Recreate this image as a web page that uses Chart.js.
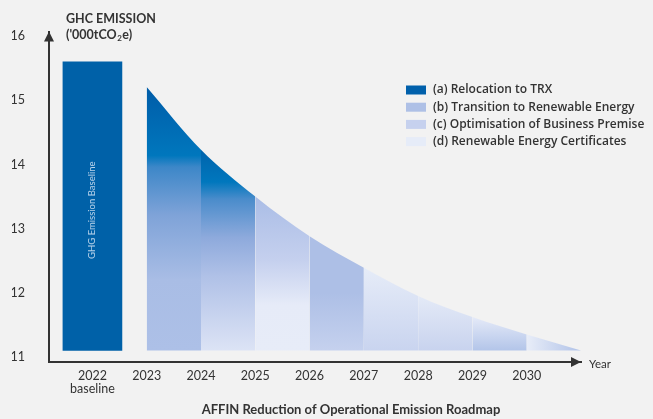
<!DOCTYPE html>
<html>
<head>
<meta charset="utf-8">
<title>Operational Emission Roadmap</title>
<script src="https://cdn.jsdelivr.net/npm/chart.js@4.4.1/dist/chart.umd.min.js"></script>
<style>
  html, body { margin: 0; padding: 0; background: #f2f2f2; }
  #wrap { width: 653px; height: 419px; position: relative; }
</style>
</head>
<body>
<div id="wrap"><canvas id="roadmap"></canvas></div>
<script>
// x axis: years and the text printed under them
const tickYears = [2022, 2023, 2024, 2025, 2026, 2027, 2028, 2029, 2030];
const tickLabels = [['2022', 'baseline'], '2023', '2024', '2025', '2026', '2027', '2028', '2029', '2030'];
const yTicks = [11, 12, 13, 14, 15, 16];

// 2022 baseline bar
const baselineYear = 2022;
const baselineValue = 15.6;
const floorValue = 11.1;

// reduction path, one point per year
const pathYears = [2023, 2024, 2025, 2026, 2027, 2028, 2029, 2030, 2031];
const pathValues = [15.21, 14.23, 13.5, 12.88, 12.39, 11.95, 11.62, 11.35, 11.1];

const legendLabels = [
  '(a) Relocation to TRX',
  '(b) Transition to Renewable Energy',
  '(c) Optimisation of Business Premise',
  '(d) Renewable Energy Certificates'
];

// styling
const ink = '#333333';
const baseBlue = '#0061a8';
const legendColors = ['#0060ab', '#aec0e6', '#c6d1ee', '#e6ecf8'];

// shading of each yearly column: [value on y axis, colour], top to bottom
const columnShades = [
  [[15.21, '#005ca8'], [14.14, '#0077bd'], [13.96, '#3d87c8'], [13.21, '#7fa3d8'], [12.2, '#a9bde5'], [11.1, '#adc0e7']],
  [[14.23, '#0063ac'], [13.73, '#0077bd'], [13.46, '#4a8ccb'], [12.86, '#8eaadc'], [12.26, '#b0c1e7'], [11.1, '#dce3f5']],
  [[13.5, '#aabde6'], [12.5, '#c5d0ee'], [11.81, '#e6ebf8'], [11.1, '#e7ecf8']],
  [[12.88, '#adbfe6'], [12.0, '#adbfe6'], [11.1, '#c5d1ee']],
  [[12.39, '#e6ecf8'], [11.1, '#c9d4ef']],
  [[11.95, '#e4eaf7'], [11.1, '#c8d3ee']],
  [[11.62, '#e5eaf8'], [11.1, '#b3c5e9']],
  null // last column fades left to right
];
const lastColumnShade = ['#e8edf8', '#b0c2e8'];

Chart.defaults.font.family = 'Lato, "Open Sans", sans-serif';
Chart.defaults.color = ink;

function columnFill(seg) {
  const chart = seg.chart;
  const c = chart.ctx;
  const y = chart.scales.y;
  const stops = columnShades[seg.p0DataIndex];
  if (!stops) {
    const g = c.createLinearGradient(seg.p0.x, 0, seg.p1.x, 0);
    g.addColorStop(0, lastColumnShade[0]);
    g.addColorStop(1, lastColumnShade[1]);
    return g;
  }
  const top = y.getPixelForValue(stops[0][0]);
  const bottom = y.getPixelForValue(stops[stops.length - 1][0]);
  const g = c.createLinearGradient(0, top, 0, bottom);
  stops.forEach(([v, col]) => {
    g.addColorStop((y.getPixelForValue(v) - top) / (bottom - top), col);
  });
  return g;
}

const decorations = {
  id: 'decorations',
  afterDraw(chart) {
    const { ctx, chartArea: a } = chart;
    ctx.save();
    ctx.fillStyle = ink;

    // axis arrow heads
    ctx.beginPath();
    ctx.moveTo(a.left, a.top);
    ctx.lineTo(a.left - 5, a.top + 10);
    ctx.lineTo(a.left + 5, a.top + 10);
    ctx.closePath();
    ctx.fill();
    ctx.beginPath();
    ctx.moveTo(a.right, a.bottom);
    ctx.lineTo(a.right - 10, a.bottom - 5);
    ctx.lineTo(a.right - 10, a.bottom + 5);
    ctx.closePath();
    ctx.fill();

    ctx.textBaseline = 'middle';
    ctx.textAlign = 'left';
    ctx.font = '11.5px Lato';
    ctx.fillText('Year', a.right + 8, a.bottom + 2);

    // y axis title
    ctx.font = 'bold 12.5px Lato';
    ctx.fillText('GHC EMISSION', 66, 19);
    let x = 66;
    ctx.fillText("('000tCO", x, 35);
    x += ctx.measureText("('000tCO").width;
    ctx.font = 'bold 8px Lato';
    ctx.fillText('2', x + 0.5, 38);
    x += ctx.measureText('2').width + 1;
    ctx.font = 'bold 12.5px Lato';
    ctx.fillText('e)', x, 35);

    // legend
    ctx.font = '600 12px "Open Sans"';
    legendLabels.forEach((label, i) => {
      const cy = 90 + i * 17.2;
      ctx.fillStyle = legendColors[i];
      ctx.fillRect(406, cy - 4.5, 20, 9);
      ctx.fillStyle = ink;
      ctx.fillText(label, 433, cy);
    });

    // chart caption
    ctx.font = 'bold 13px Lato';
    ctx.textAlign = 'center';
    ctx.fillText('AFFIN Reduction of Operational Emission Roadmap', 351, 410);

    // label inside the baseline bar
    const bar = chart.getDatasetMeta(0).data[0];
    if (bar) {
      ctx.translate(bar.x, (bar.y + bar.base) / 2 + 4);
      ctx.rotate(-Math.PI / 2);
      ctx.font = '9.5px Lato';
      ctx.fillStyle = 'rgba(235, 242, 252, 0.78)';
      ctx.fillText('GHG Emission Baseline', 0, 0);
    }
    ctx.restore();
  }
};

new Chart(document.getElementById('roadmap'), {
  data: {
    datasets: [
      {
        type: 'bar',
        label: 'GHG Emission Baseline',
        data: [{ x: baselineYear, y: [floorValue, baselineValue] }],
        backgroundColor: baseBlue,
        barThickness: 59,
        borderWidth: 0
      },
      {
        type: 'line',
        label: 'Reduction path',
        data: pathYears.map((yr, i) => ({ x: yr, y: pathValues[i] })),
        fill: { value: floorValue },
        cubicInterpolationMode: 'monotone',
        borderWidth: 0,
        borderColor: 'transparent',
        pointRadius: 0,
        backgroundColor: '#aebfe6',
        segment: {
          backgroundColor: columnFill
        }
      }
    ]
  },
  options: {
    responsive: true,
    maintainAspectRatio: false,
    animation: false,
    layout: { padding: { top: 19, left: 12, right: 72, bottom: 0 } },
    plugins: {
      legend: { display: false },
      tooltip: { enabled: false }
    },
    scales: {
      x: {
        type: 'linear',
        offset: false,
        min: 2021.2,
        max: 2031,
        afterBuildTicks: s => { s.ticks = tickYears.map(v => ({ value: v })); },
        afterFit: s => { s.height = 57; },
        grid: { display: false, drawTicks: false, offset: false },
        border: { display: true, color: ink, width: 2 },
        ticks: {
          autoSkip: false,
          maxRotation: 0,
          padding: 8,
          color: ink,
          font: { size: 12.5, lineHeight: 1.0 },
          callback: (v, i) => tickLabels[i]
        }
      },
      y: {
        type: 'linear',
        min: 10.92,
        max: 16.075,
        afterBuildTicks: s => { s.ticks = yTicks.map(v => ({ value: v })); },
        afterFit: s => { s.width = 37; },
        grid: { display: false, drawTicks: false },
        border: { display: true, color: ink, width: 2 },
        ticks: {
          padding: 24,
          color: ink,
          font: { size: 12.5 },
          callback: v => String(v)
        }
      }
    }
  },
  plugins: [decorations]
});
</script>
</body>
</html>
